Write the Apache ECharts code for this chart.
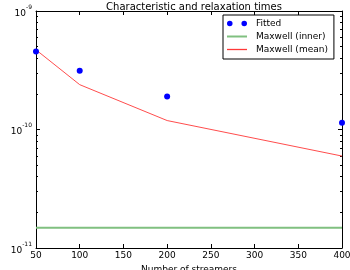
<!DOCTYPE html>
<html>
<head>
<meta charset="utf-8">
<script src="https://cdn.jsdelivr.net/npm/echarts@6/dist/echarts.min.js"></script>
<style>html,body{margin:0;padding:0;background:#fff;}#c{width:350px;height:270px;}</style>
</head>
<body>
<div id="c"></div>
<script>
var streamers = [50, 100, 200, 400];
var fitted = [4.55e-10, 3.13e-10, 1.9e-10, 1.14e-10];
var maxwellInner = [1.48e-11, 1.48e-11, 1.48e-11, 1.48e-11];
var maxwellMean = [4.7e-10, 2.39e-10, 1.19e-10, 5.97e-11];
var xTicks = [50, 100, 150, 200, 250, 300, 350, 400];
var yMajorTicks = [1e-11, 1e-10, 1e-9];
var yMinorTicks = [2e-11, 3e-11, 4e-11, 5e-11, 6e-11, 7e-11, 8e-11, 9e-11,
                   2e-10, 3e-10, 4e-10, 5e-10, 6e-10, 7e-10, 8e-10, 9e-10];

function pairs(xs, ys) { return xs.map(function (x, i) { return [x, ys[i]]; }); }

var FONT = 'DejaVu Sans';
var chart = echarts.init(document.getElementById('c'), null, {renderer: 'canvas'});

function yAxisDef(pos, minor, labels, gridIndex) {
  return {
    type: 'log', logBase: 10, min: 1e-11, max: 1e-9, position: pos,
    gridIndex: gridIndex, offset: 0,
    name: labels ? 'Time (s)' : '',
    nameLocation: 'middle', nameGap: 27,
    nameTextStyle: {fontFamily: FONT, fontSize: 9, color: '#000'},
    axisLine: {show: !minor, onZero: false, lineStyle: {color: '#000', width: 1}},
    axisTick: {show: true, inside: true, length: minor ? 2 : 4,
               lineStyle: {color: '#000', width: 1},
               customValues: minor ? yMinorTicks : yMajorTicks},
    axisLabel: {show: labels, margin: 4,
      customValues: yMajorTicks,
      formatter: function (v) {
        var e = Math.round(Math.log(v) / Math.LN10);
        return '{b|10}{s|' + e + '}';
      },
      rich: {
        b: {fontFamily: FONT, fontSize: 9, color: '#000', lineHeight: 14, verticalAlign: 'bottom'},
        s: {fontFamily: FONT, fontSize: 6, color: '#000', lineHeight: 14, verticalAlign: 'top'}
      }
    },
    splitLine: {show: false},
    minorTick: {show: false}
  };
}

var gridBox = {left: 36, right: 8, top: 11, bottom: 22, containLabel: false, outerBoundsMode: 'none'};

var option = {
  animation: false,
  backgroundColor: '#fff',
  title: {
    text: 'Characteristic and relaxation times',
    left: 189, top: -3, textAlign: 'center',
    textStyle: {fontFamily: FONT, fontSize: 10, fontWeight: 'normal', color: '#000'}
  },
  legend: {
    orient: 'vertical', left: 223, top: 15,
    padding: [4, 6, 5, 4], itemGap: 4, itemWidth: 20, itemHeight: 10,
    borderColor: '#000', borderWidth: 1, borderRadius: 0,
    backgroundColor: '#fff',
    symbolKeepAspect: true,
    textStyle: {fontFamily: FONT, fontSize: 9, color: '#000', padding: [0, 0, 0, 4]},
    data: [
      {name: 'Fitted', icon: 'path://M0,2.5A2.5,2.5 0 1,1 5,2.5A2.5,2.5 0 1,1 0,2.5ZM13,2.5A2.5,2.5 0 1,1 18,2.5A2.5,2.5 0 1,1 13,2.5Z',
       itemStyle: {color: '#0000ff', opacity: 1, borderWidth: 0}},
      {name: 'Maxwell (inner)', icon: 'path://M0,0h20v2h-20z',
       itemStyle: {color: '#80c080', opacity: 1, borderWidth: 0}},
      {name: 'Maxwell (mean)', icon: 'path://M0,0h20v1.3h-20z',
       itemStyle: {color: '#ff3838', opacity: 1, borderWidth: 0}}
    ]
  },
  grid: [Object.assign({}, gridBox), Object.assign({}, gridBox)],
  xAxis: [
    {
      type: 'value', min: 50, max: 400, interval: 50, position: 'bottom', gridIndex: 0,
      name: 'Number of streamers', nameLocation: 'middle', nameGap: 7,
      nameTextStyle: {fontFamily: FONT, fontSize: 9, color: '#000'},
      axisLine: {onZero: false, lineStyle: {color: '#000', width: 1}},
      axisTick: {inside: true, length: 4, lineStyle: {color: '#000'}, customValues: xTicks},
      axisLabel: {fontFamily: FONT, fontSize: 9, color: '#000', margin: 3, customValues: xTicks},
      splitLine: {show: false}
    },
    {
      type: 'value', min: 50, max: 400, interval: 50, position: 'top', gridIndex: 0,
      axisLine: {onZero: false, lineStyle: {color: '#000', width: 1}},
      axisTick: {inside: true, length: 4, lineStyle: {color: '#000'}, customValues: xTicks},
      axisLabel: {show: false},
      splitLine: {show: false}
    },
    {
      type: 'value', min: 50, max: 400, gridIndex: 1, show: false
    }
  ],
  yAxis: [
    yAxisDef('left', false, true, 0),
    yAxisDef('right', false, false, 0),
    yAxisDef('left', true, false, 1),
    yAxisDef('right', true, false, 1)
  ],
  series: [
    {
      name: 'Fitted', type: 'scatter', data: pairs(streamers, fitted),
      xAxisIndex: 0, yAxisIndex: 0,
      symbol: 'circle', symbolSize: 6, clip: true,
      itemStyle: {color: '#0000ff', opacity: 1}, z: 5
    },
    {
      name: 'Maxwell (inner)', type: 'line', data: pairs(streamers, maxwellInner),
      xAxisIndex: 0, yAxisIndex: 0,
      symbol: 'none', showSymbol: false,
      lineStyle: {color: '#80c080', width: 2}, itemStyle: {color: '#80c080'}
    },
    {
      name: 'Maxwell (mean)', type: 'line', data: pairs(streamers, maxwellMean),
      xAxisIndex: 0, yAxisIndex: 0,
      symbol: 'none', showSymbol: false,
      lineStyle: {color: '#ff4d4d', width: 1}, itemStyle: {color: '#ff4d4d'}
    }
  ]
};
chart.setOption(option);
</script>
</body>
</html>
